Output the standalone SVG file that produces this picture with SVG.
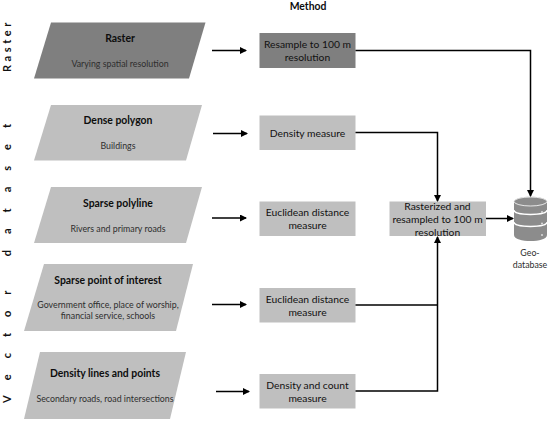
<svg xmlns="http://www.w3.org/2000/svg" width="550" height="423" viewBox="0 0 550 423">
<style>
text{font-family:"Lato","Open Sans","Liberation Sans",sans-serif;text-anchor:middle}
.t{font-size:10.4px;font-weight:700;fill:#0d0d0d}
.s{font-size:8.8px;fill:#2e2e2e}
.b{font-size:10.3px;fill:#111}
.side{font-size:11px;font-weight:700;fill:#111;text-anchor:start}
.dk{fill:#7f7f7f}.lt{fill:#bfbfbf}
.c{fill:none;stroke:#000;stroke-width:1.5}
</style>
<defs><marker id="a" markerWidth="8" markerHeight="8" refX="6" refY="3.500" orient="auto" markerUnits="userSpaceOnUse"><path d="M0,0L7,3.500L0,7z" fill="#000"/></marker></defs>
<text class="t" x="308" y="10">Method</text>
<text class="side" transform="translate(10.500,72) rotate(-90)" letter-spacing="3.6">Raster</text>
<text class="side" transform="translate(10.500,403) rotate(-90)" letter-spacing="16">Vector dataset</text>
<g id="n-raster"><polygon class="dk" points="51,22.5 205.5,22.5 189,78.5 34,78.5"/><text class="t" x="120" y="42">Raster</text><text class="s" x="120" y="66.500">Varying spatial resolution</text></g>
<g id="n-dense"><polygon class="lt" points="51,105 202,105 186,160.500 34,160.500"/><text class="t" x="118" y="124">Dense polygon</text><text class="s" x="118" y="149">Buildings</text></g>
<g id="n-polyline"><polygon class="lt" points="51,187 202,187 186,243 34,243"/><text class="t" x="118" y="207">Sparse polyline</text><text class="s" x="118" y="231.500">Rivers and primary roads</text></g>
<g id="n-poi"><polygon class="lt" points="44,264 193,264 176,331 24,331"/><text class="t" x="108" y="283.500">Sparse point of interest</text><text class="s" x="108" y="308">Government office, place of worship,</text><text class="s" x="108" y="319">financial service, schools</text></g>
<g id="n-lines"><polygon class="lt" points="40,352 186,352 170,419 24,419"/><text class="t" x="105" y="377">Density lines and points</text><text class="s" x="105" y="402">Secondary roads, road intersections</text></g>
<g id="m-resample"><rect class="dk" x="259.500" y="33" width="96" height="35"/><text class="b" x="307.500" y="48">Resample to 100 m</text><text class="b" x="307.500" y="61">resolution</text></g>
<g id="m-density"><rect class="lt" x="259.500" y="115.500" width="96" height="34.500"/><text class="b" x="307.500" y="137">Density measure</text></g>
<g id="m-euc1"><rect class="lt" x="259.500" y="201.500" width="96" height="34.500"/><text class="b" x="307.500" y="216">Euclidean distance</text><text class="b" x="307.500" y="229">measure</text></g>
<g id="m-euc2"><rect class="lt" x="259.500" y="288" width="96" height="34.500"/><text class="b" x="307.500" y="302.500">Euclidean distance</text><text class="b" x="307.500" y="315.500">measure</text></g>
<g id="m-count"><rect class="lt" x="259.500" y="374" width="96" height="34.500"/><text class="b" x="307.500" y="388.500">Density and count</text><text class="b" x="307.500" y="402">measure</text></g>
<g id="m-raster2"><rect class="lt" x="389.500" y="201.500" width="96.500" height="34.500"/><text class="b" x="437.500" y="210">Rasterized and</text><text class="b" x="437.500" y="223">resampled to 100 m</text><text class="b" x="437.500" y="236">resolution</text></g>
<g id="geodatabase">
<path fill="#8c8c8c" d="M514,201.500C514,195 547,195 547,201.500V235C547,243 514,243 514,235z"/>
<path d="M514,210C514,216 547,216 547,210M514,222C514,228 547,228 547,222" fill="none" stroke="#fff" stroke-width="1.300"/>
<ellipse cx="530.500" cy="201.500" rx="16.500" ry="4.500" fill="#8c8c8c" stroke="#fff" stroke-width="0.800"/>
<circle cx="542" cy="212" r="1" fill="#ddd"/><circle cx="542" cy="223.500" r="1" fill="#ddd"/><circle cx="542" cy="235" r="1" fill="#ddd"/>
<text class="s" x="530" y="256">Geo-</text><text class="s" x="530" y="268">database</text></g>
<g id="connectors">
<path class="c" marker-end="url(#a)" d="M212,50.500H246"/>
<path class="c" marker-end="url(#a)" d="M213,133.500H247"/>
<path class="c" marker-end="url(#a)" d="M212,218H246"/>
<path class="c" marker-end="url(#a)" d="M212,304.500H246"/>
<path class="c" marker-end="url(#a)" d="M216,391.500H249"/>
<path class="c" marker-end="url(#a)" d="M355.500,50.500H530.500V196"/>
<path class="c" marker-end="url(#a)" d="M355.500,132.500H437.500V201"/>
<path class="c" marker-end="url(#a)" d="M355.500,391H437.500V237"/>
<path class="c" d="M355.500,305H437.500"/>
<path class="c" marker-end="url(#a)" d="M486,218.500H513"/>
</g>
</svg>
